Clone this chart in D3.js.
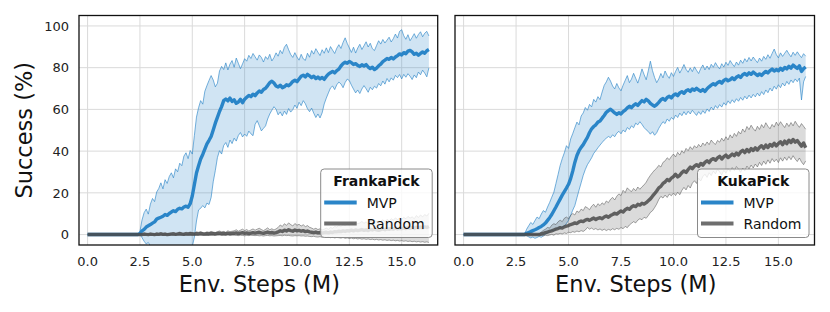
<!DOCTYPE html>
<html>
<head>
<meta charset="utf-8">
<script src="https://cdn.jsdelivr.net/npm/d3@7"></script>
<style>
  html, body { margin: 0; padding: 0; background: #fff; }
  svg { display: block; font-family: "DejaVu Sans", sans-serif; }
</style>
</head>
<body>
<svg id="chart" width="830" height="312"></svg>
<script>
// samples every 0.1 M env steps, from 0.0 to 16.3
const stepSize = 0.1;

const xTicks = [0, 2.5, 5, 7.5, 10, 12.5, 15];
const yTicks = [0, 20, 40, 60, 80, 100];
const seriesNames = ["MVP", "Random"];

// ---- FrankaPick ----
const frankaMvpMean = [
  0,0,0,0,0,0,0,0,0,0,
  0,0,0,0,0,0,0,0,0,0,
  0,0,0,0,0,0.5,1.8,2.5,3.6,4.2,
  4.8,5.5,6.1,7.4,7.9,8.3,8.8,9.6,9.2,10.1,
  10.8,11.4,11.0,12.1,12.6,12.3,13.2,13.6,13.1,14.8,
  18.5,24.0,29.5,33.0,36.2,38.4,41.0,43.5,45.2,47.0,
  50.1,53.4,56.2,59.0,61.3,64.2,65.0,64.1,65.4,63.8,
  64.6,62.9,63.5,64.8,63.2,64.9,65.8,66.7,66.1,67.3,
  66.6,67.9,68.8,68.2,69.5,70.1,71.4,72.8,73.5,72.6,
  71.2,70.7,71.6,70.4,70.9,71.8,71.3,72.2,73.4,74.0,
  73.3,74.6,75.9,76.4,75.6,76.8,76.1,75.2,75.9,74.8,
  75.5,74.6,75.3,74.4,75.8,76.9,77.6,78.2,77.5,78.6,
  79.3,80.8,81.9,82.6,82.1,83.0,82.4,81.5,81.9,81.1,
  80.6,81.4,80.8,81.5,80.3,79.6,80.2,79.1,79.8,80.9,
  81.7,82.9,83.6,84.4,84.0,84.9,84.2,85.1,85.8,86.6,
  86.1,87.2,86.7,87.9,88.3,87.6,86.4,86.9,86.0,86.8,
  87.5,86.9,88.1,88.7
];
const frankaMvpHigh = [
  0,0,0,0,0,0,0,0,0,0,
  0,0,0,0,0,0,0,0,0,0,
  0,0,0,0,0,1.5,7.0,10.5,12.2,9.8,
  14.6,17.3,15.8,20.4,22.1,24.8,21.9,26.3,24.5,27.8,
  29.6,27.2,31.5,30.1,34.2,33.0,37.6,39.2,36.4,40.3,
  38.6,47.5,56.3,60.8,64.2,62.5,68.7,71.4,73.9,76.2,
  74.1,70.8,72.5,78.4,80.6,79.1,82.3,78.9,81.7,83.4,
  80.2,84.6,82.1,79.5,81.8,84.3,83.1,85.9,84.4,86.8,
  85.2,83.6,86.1,84.9,82.7,85.3,84.0,86.4,83.2,84.8,
  87.1,85.5,88.3,86.7,89.8,91.2,88.6,86.3,84.9,87.2,
  85.1,83.6,86.4,84.2,83.5,86.9,85.0,88.2,86.5,89.1,
  87.4,85.8,88.6,86.9,89.5,87.2,90.1,88.4,86.8,89.3,
  91.0,89.2,92.1,94.3,91.6,89.5,87.3,89.8,87.0,89.4,
  91.2,88.7,90.5,92.4,89.9,91.7,89.1,88.2,90.6,92.9,
  91.3,93.5,91.8,93.2,94.6,92.3,93.9,96.1,94.2,97.4,
  98.2,95.3,93.6,95.8,92.9,94.5,96.3,94.1,95.9,97.2,
  94.8,96.5,97.4,95.2
];
const frankaMvpLow = [
  0,0,0,0,0,0,0,0,0,0,
  0,0,0,0,0,0,0,0,0,0,
  0,0,0,0,0,0,-1.5,-3.2,-4.5,-3.8,
  -5.5,-6.2,-7.1,-6.5,-7.8,-6.9,-7.4,-8.2,-7.0,-7.6,
  -8.1,-7.3,-7.9,-8.4,-7.2,-7.7,-8.3,-7.5,-8.0,-7.4,
  -5.8,-1.2,6.5,11.8,12.6,13.9,12.8,15.1,14.4,17.8,
  25.3,30.7,36.9,40.2,38.6,42.7,44.1,41.8,45.3,43.6,
  46.2,44.8,47.5,48.9,46.8,48.2,47.1,49.6,48.3,47.4,
  52.8,54.6,52.2,49.7,50.9,52.1,55.4,57.8,59.6,61.3,
  60.1,57.4,58.8,56.9,59.2,57.6,60.4,58.7,59.9,62.1,
  60.5,63.4,61.8,64.2,62.7,60.3,58.9,60.6,58.2,56.1,
  57.8,55.9,58.3,62.6,65.4,67.9,70.3,71.2,69.5,71.8,
  73.1,72.2,70.4,72.9,74.5,73.8,71.6,69.7,67.9,69.3,
  67.6,69.8,71.4,69.9,68.2,70.6,69.4,71.1,70.2,72.4,
  71.3,73.6,72.1,74.8,73.2,75.1,74.0,76.3,75.2,76.7,
  74.6,76.8,75.4,77.1,75.9,74.3,76.5,75.2,77.9,76.6,
  78.8,77.4,75.6,79.9
];
const frankaRandMean = [
  0,0,0,0,0,0,0,0,0,0,
  0,0,0,0,0,0,0,0,0,0,
  0,0,0,0,0,0.1,0,0.2,0.1,0,
  0.2,0.1,0,0.2,0.1,0.3,0.1,0.2,0,0.1,
  0.2,0.3,0.1,0.2,0.4,0.2,0.1,0.3,0.2,0.4,
  0.3,0.2,0.4,0.3,0.5,0.3,0.2,0.4,0.3,0.5,
  0.4,0.3,0.5,0.6,0.4,0.5,0.3,0.6,0.4,0.5,
  0.6,0.8,0.5,0.7,0.9,0.6,0.8,0.5,0.7,0.9,
  0.7,0.9,1.1,0.8,0.6,0.9,1.2,0.8,1.0,0.7,
  0.9,1.3,1.8,1.5,2.1,1.7,2.3,1.9,1.6,2.2,
  1.8,2.0,1.6,1.9,1.4,1.7,1.3,1.1,0.9,1.2,
  0.8,1.0,0.7,0.9,1.1,0.8,1.2,1.0,1.4,1.3,
  1.6,1.4,1.8,1.5,1.9,1.7,2.1,1.8,2.2,1.9,
  2.1,2.4,2.0,2.3,1.9,2.5,2.2,2.6,2.3,2.0,
  2.4,2.7,2.3,2.8,2.5,2.9,2.6,3.1,2.7,3.0,
  2.8,3.2,2.9,3.4,3.0,3.3,2.9,3.5,3.1,3.6,
  3.2,3.7,3.4,3.9
];
const frankaRandHigh = [
  0,0,0,0,0,0,0,0,0,0,
  0,0,0,0,0,0,0,0,0,0,
  0,0,0,0,0,0.6,0.3,0.8,0.5,0.4,
  0.7,0.5,0.3,0.8,0.6,0.9,0.5,0.7,0.4,0.6,
  0.8,1.0,0.6,0.9,1.2,0.8,0.7,1.1,0.9,1.2,
  1.0,0.8,1.3,1.1,1.4,1.0,0.9,1.3,1.1,1.5,
  1.2,1.0,1.4,1.7,1.3,1.5,1.1,1.8,1.4,1.6,
  1.8,2.3,1.6,2.1,2.6,1.9,2.4,1.7,2.2,2.7,
  2.1,2.6,3.0,2.4,1.9,2.5,3.2,2.3,2.8,2.2,
  2.7,3.4,4.6,3.9,5.2,4.4,5.6,4.8,4.1,5.3,
  4.5,4.9,4.1,4.7,3.8,4.3,3.5,3.1,2.6,3.0,
  2.4,2.8,2.2,2.6,3.1,2.5,3.4,3.0,3.9,3.6,
  4.4,3.9,4.8,4.2,5.1,4.6,5.5,4.9,5.8,5.2,
  5.6,6.3,5.4,6.1,5.2,6.6,5.9,6.8,6.2,5.5,
  6.4,7.1,6.2,7.3,6.6,7.6,6.9,8.0,7.2,7.8,
  7.3,8.2,7.6,8.7,7.9,8.5,7.6,9.1,8.2,9.4,
  8.5,9.6,8.9,10.2
];
const frankaRandLow = [
  0,0,0,0,0,0,0,0,0,0,
  0,0,0,0,0,0,0,0,0,0,
  0,0,0,0,0,-0.3,-0.2,-0.3,-0.2,-0.3,
  -0.2,-0.3,-0.3,-0.2,-0.3,-0.2,-0.3,-0.2,-0.3,-0.3,
  -0.2,-0.3,-0.3,-0.2,-0.1,-0.3,-0.3,-0.2,-0.3,-0.2,
  -0.3,-0.3,-0.2,-0.3,-0.2,-0.3,-0.3,-0.2,-0.3,-0.2,
  -0.2,-0.3,-0.2,-0.1,-0.3,-0.2,-0.3,-0.1,-0.3,-0.2,
  -0.3,-0.4,-0.5,-0.3,-0.4,-0.6,-0.4,-0.5,-0.3,-0.4,
  -0.5,-0.4,-0.6,-0.5,-0.7,-0.5,-0.4,-0.6,-0.5,-0.7,
  -0.6,-0.5,-0.4,-0.6,-0.3,-0.5,-0.4,-0.6,-0.7,-0.5,
  -0.6,-0.5,-0.7,-0.6,-0.8,-0.7,-0.9,-1.0,-0.8,-1.1,
  -1.2,-1.0,-1.3,-1.1,-1.4,-1.2,-1.5,-1.3,-1.6,-1.4,
  -1.5,-1.7,-1.4,-1.8,-1.6,-1.9,-1.7,-2.0,-1.8,-2.1,
  -1.9,-2.2,-2.0,-2.3,-2.1,-2.4,-2.2,-2.5,-2.3,-2.6,
  -2.4,-2.7,-2.5,-2.8,-2.6,-2.9,-2.7,-3.0,-2.8,-3.1,
  -2.9,-3.2,-3.0,-3.3,-3.1,-3.4,-3.2,-3.5,-3.3,-3.6,
  -3.4,-3.7,-3.5,-3.8
];

// ---- KukaPick ----
const kukaMvpMean = [
  0,0,0,0,0,0,0,0,0,0,
  0,0,0,0,0,0,0,0,0,0,
  0,0,0,0,0,0,0,0,0,0,
  0.6,1.0,1.4,1.9,2.3,2.8,3.4,3.9,4.6,5.5,
  6.8,8.1,9.6,11.4,13.2,15.1,17.0,18.9,20.6,22.3,
  24.1,26.8,30.4,34.6,37.9,40.2,41.8,43.1,44.9,46.6,
  48.9,50.7,51.8,52.6,53.9,54.4,55.8,57.1,58.6,59.4,
  60.1,59.2,58.3,57.6,58.4,57.8,58.9,59.6,60.7,61.5,
  60.8,61.9,62.7,61.9,63.1,64.2,63.6,64.8,64.1,62.9,
  62.1,61.5,62.3,63.4,64.6,65.2,64.4,65.7,66.3,65.5,
  66.8,67.4,66.6,67.9,68.5,67.7,68.9,69.4,68.6,69.8,
  69.2,70.1,69.3,68.7,69.5,68.6,69.9,70.8,71.6,72.3,
  71.7,72.8,73.4,72.6,73.9,74.5,73.7,74.2,75.1,74.3,
  75.4,76.1,75.3,76.6,77.2,76.4,77.5,76.8,77.9,77.1,
  76.2,77.0,76.3,77.4,78.2,77.5,78.6,79.3,78.4,79.1,
  78.5,79.7,78.8,80.1,79.4,80.6,79.8,81.2,80.4,79.6,
  80.9,78.2,79.5,80.3
];
const kukaMvpHigh = [
  0,0,0,0,0,0,0,0,0,0,
  0,0,0,0,0,0,0,0,0,0,
  0,0,0,0,0,0,0,0,0,0,
  2.5,4.2,5.8,4.9,6.7,8.4,7.6,9.8,11.5,10.7,
  13.2,15.4,17.9,20.3,24.5,28.7,33.1,36.4,39.2,42.6,
  41.3,45.8,48.4,51.2,53.9,52.6,56.8,58.3,60.9,59.6,
  62.4,61.2,64.8,63.5,66.1,64.7,68.3,71.5,73.2,75.4,
  73.6,71.2,69.8,72.4,70.3,68.9,71.6,73.9,76.2,72.8,
  74.5,77.3,74.9,72.6,75.8,79.4,76.7,74.2,78.5,83.1,
  78.6,75.3,72.8,74.6,77.2,75.1,78.4,76.3,74.9,77.6,
  75.8,78.2,80.1,77.4,79.3,81.5,79.2,77.8,79.9,78.1,
  80.4,78.7,77.2,79.6,81.3,78.9,80.8,79.1,81.6,80.2,
  82.4,80.7,79.4,81.9,80.3,82.6,81.1,83.4,81.8,80.5,
  82.7,81.2,83.6,82.1,84.3,82.8,84.9,83.2,85.1,83.7,
  82.4,84.6,83.1,85.4,84.0,86.2,84.5,86.8,88.9,86.3,
  84.7,87.1,85.4,86.9,88.3,86.6,85.2,87.4,85.9,87.6,
  86.1,84.8,86.7,85.5
];
const kukaMvpLow = [
  0,0,0,0,0,0,0,0,0,0,
  0,0,0,0,0,0,0,0,0,0,
  0,0,0,0,0,0,0,0,0,0,
  -0.5,-1.1,-1.6,-1.2,-1.8,-1.4,-0.9,-1.3,-0.6,0.2,
  0.8,1.4,2.1,1.7,2.6,3.2,2.8,3.6,4.1,5.3,
  6.8,9.2,11.7,13.9,17.6,21.3,24.8,28.4,31.2,33.5,
  35.1,36.8,38.9,40.2,41.6,42.9,44.1,45.3,46.2,47.0,
  46.4,47.8,46.9,48.6,49.5,48.3,50.1,49.2,51.3,50.4,
  52.1,51.2,53.4,52.6,54.1,52.8,51.3,50.2,49.4,48.1,
  49.3,47.6,48.8,50.9,52.6,54.1,53.2,55.4,54.3,56.1,
  55.2,57.3,56.1,58.2,57.0,58.9,57.4,59.1,57.8,59.6,
  58.3,57.1,58.9,57.6,59.4,58.1,60.2,59.0,61.1,59.7,
  61.8,60.5,62.3,61.1,63.2,62.0,64.1,62.8,64.6,63.3,
  65.1,63.9,65.7,64.4,66.3,65.0,66.8,65.5,67.2,66.0,
  67.8,66.4,68.5,67.1,69.3,68.0,70.2,68.8,71.1,69.7,
  71.8,70.4,72.6,71.2,73.4,72.0,74.1,72.8,74.6,73.3,
  75.0,64.5,73.2,75.8
];
const kukaRandMean = [
  0,0,0,0,0,0,0,0,0,0,
  0,0,0,0,0,0,0,0,0,0,
  0,0,0,0,0,0,0,0,0,0,
  0,0,0,0,0,0,0,0.3,0.6,0.9,
  1.2,1.5,1.8,2.2,2.6,2.9,3.3,3.1,3.7,4.0,
  4.3,4.8,5.1,5.6,5.3,6.1,6.5,6.2,6.9,7.3,
  6.8,7.4,7.9,7.2,7.8,8.1,7.6,8.4,8.9,8.3,
  9.1,9.6,10.2,9.8,10.6,11.3,10.8,11.9,12.6,12.1,
  13.2,13.8,13.4,14.5,14.1,15.0,14.6,15.3,16.2,17.1,
  18.4,19.6,20.9,22.4,23.1,24.5,25.2,26.4,25.8,27.1,
  27.8,28.9,27.6,28.4,29.7,30.5,29.8,31.2,32.4,31.6,
  32.8,33.5,32.7,34.1,33.3,34.6,35.4,34.5,35.9,36.4,
  35.6,36.8,37.5,36.2,37.4,38.1,36.9,37.7,38.6,37.8,
  39.1,38.2,39.6,40.4,39.3,40.8,39.7,41.2,40.3,41.6,
  40.5,41.8,42.6,41.3,42.9,41.7,43.2,42.4,43.8,42.5,
  43.6,44.5,43.1,44.8,43.6,45.2,44.1,45.6,44.3,45.1,
  43.7,42.4,43.9,41.6
];
const kukaRandHigh = [
  0,0,0,0,0,0,0,0,0,0,
  0,0,0,0,0,0,0,0,0,0,
  0,0,0,0,0,0,0,0,0,0,
  0,0,0,0,0,0,0.4,1.2,2.0,2.6,
  3.4,3.1,4.5,5.2,4.8,6.1,6.9,6.2,7.8,8.4,
  7.6,9.2,10.1,9.4,11.3,10.6,12.2,11.5,13.4,12.8,
  11.9,13.6,14.5,13.1,14.8,13.9,15.2,14.4,16.1,15.3,
  16.9,17.8,16.6,18.4,19.5,18.7,21.2,20.1,22.4,21.3,
  20.6,22.1,21.0,22.8,21.7,22.9,23.8,25.1,26.9,28.4,
  29.7,30.9,31.8,33.2,32.4,34.6,35.3,36.8,35.9,37.4,
  38.6,37.2,39.4,38.1,40.2,39.0,41.3,40.2,42.1,40.8,
  42.6,41.5,43.2,42.0,43.9,42.7,44.4,43.1,45.3,44.0,
  43.2,45.1,44.3,46.2,44.8,46.9,45.4,47.8,46.3,48.5,
  47.1,49.4,48.2,50.6,49.1,51.8,50.3,52.4,50.8,49.6,
  51.9,50.4,52.7,51.2,53.6,51.9,50.7,52.8,51.5,53.9,
  52.2,54.1,52.6,51.3,53.4,51.8,53.7,52.1,54.3,52.7,
  51.4,53.2,51.9,50.5
];
const kukaRandLow = [
  0,0,0,0,0,0,0,0,0,0,
  0,0,0,0,0,0,0,0,0,0,
  0,0,0,0,0,0,0,0,0,0,
  0,0,0,0,0,0,0,-0.4,-0.6,-0.3,
  -0.5,-0.2,0.1,-0.3,0.4,0.2,0.6,0.3,0.8,0.5,
  1.1,0.9,1.4,1.1,1.7,1.3,1.9,1.5,2.2,3.4,
  2.6,3.1,2.4,2.9,2.2,2.7,2.0,2.6,1.9,2.5,
  2.1,2.8,2.3,3.0,2.5,3.4,2.8,3.9,3.3,4.6,
  5.4,6.2,5.6,6.9,7.6,7.1,8.3,7.8,9.1,10.6,
  11.4,12.9,14.6,16.8,18.3,17.5,18.9,17.8,19.4,18.6,
  19.9,18.7,20.3,19.1,21.2,22.6,21.4,23.5,22.3,24.6,
  25.8,24.5,26.9,25.7,27.8,28.9,27.4,29.6,28.3,30.4,
  29.1,31.2,30.0,28.6,30.8,29.4,31.5,30.2,32.1,30.7,
  32.6,31.3,29.8,31.9,30.6,32.8,31.4,33.3,31.9,33.8,
  32.4,34.6,33.1,35.2,33.7,35.8,34.2,36.4,34.9,36.1,
  34.5,36.8,35.2,37.1,35.6,37.4,35.9,37.8,36.2,35.0,
  36.7,34.8,33.5,35.3
];

const blue = "#2a85c8";
const grey = "#4a4a4a";

const svg = d3.select("#chart");
const plotTop = 15.5, plotBottom = 245;

const y = d3.scaleLinear().domain([-5, 105]).range([plotBottom, plotTop]);

function drawPanel(id, left, right, title, mvp, rand, showY) {
    const x = d3.scaleLinear().domain([-0.41, 16.72]).range([left, right]);
    const g = svg.append("g");

    // grid
    g.selectAll(".gx").data(xTicks).enter().append("line")
        .attr("x1", d => x(d)).attr("x2", d => x(d))
        .attr("y1", plotTop).attr("y2", plotBottom)
        .attr("stroke", "#dadada").attr("stroke-width", 1);
    g.selectAll(".gy").data(yTicks).enter().append("line")
        .attr("x1", left).attr("x2", right)
        .attr("y1", d => y(d)).attr("y2", d => y(d))
        .attr("stroke", "#dadada").attr("stroke-width", 1);

    svg.append("clipPath").attr("id", "clip" + id)
        .append("rect").attr("x", left).attr("y", plotTop)
        .attr("width", right - left).attr("height", plotBottom - plotTop);

    const plot = g.append("g").attr("clip-path", `url(#clip${id})`);

    const line = arr => d3.line()
        .x((d, i) => x(i * stepSize))
        .y(d => y(d))(arr);
    const area = (lo, hi) => d3.area()
        .x((d, i) => x(i * stepSize))
        .y0((d, i) => y(lo[i]))
        .y1((d, i) => y(hi[i]))(lo);

    const bands = [[mvp, blue], [rand, grey]];
    bands.forEach(([s, c]) => {
        plot.append("path").attr("d", area(s.low, s.high))
            .attr("fill", c).attr("fill-opacity", c === blue ? 0.22 : 0.2);
        [s.low, s.high].forEach(edge => {
            plot.append("path").attr("d", line(edge))
                .attr("fill", "none").attr("stroke", c)
                .attr("stroke-opacity", c === blue ? 0.7 : 0.55).attr("stroke-width", 0.9);
        });
    });

    plot.append("path").attr("d", line(mvp.mean))
        .attr("fill", "none").attr("stroke", blue).attr("stroke-width", 3.4)
        .attr("stroke-linejoin", "round");
    plot.append("path").attr("d", line(rand.mean))
        .attr("fill", "none").attr("stroke", grey).attr("stroke-opacity", 0.85)
        .attr("stroke-width", 3.4).attr("stroke-linejoin", "round");

    // frame
    g.append("rect").attr("x", left).attr("y", plotTop)
        .attr("width", right - left).attr("height", plotBottom - plotTop)
        .attr("fill", "none").attr("stroke", "#111").attr("stroke-width", 1.3);

    // tick labels
    g.selectAll(".tx").data(xTicks).enter().append("text")
        .attr("x", d => x(d)).attr("y", 265.5)
        .attr("text-anchor", "middle").attr("font-size", 13).attr("fill", "#222")
        .text(d => d.toFixed(1));
    if (showY) {
        g.selectAll(".ty").data(yTicks).enter().append("text")
            .attr("x", left - 10).attr("y", d => y(d)).attr("dy", "0.36em")
            .attr("text-anchor", "end").attr("font-size", 13).attr("fill", "#222")
            .text(d => d);
        g.append("text")
            .attr("transform", `translate(32,${(plotTop + plotBottom) / 2}) rotate(-90)`)
            .attr("text-anchor", "middle").attr("font-size", 22.5).attr("fill", "#111")
            .text("Success (%)");
    }
    g.append("text")
        .attr("x", (left + right) / 2 + 1).attr("y", 292)
        .attr("text-anchor", "middle").attr("font-size", 22.5).attr("fill", "#111")
        .text("Env. Steps (M)");

    // legend
    const lx = right - 117, ly = 169;
    const lg = g.append("g").attr("transform", `translate(${lx},${ly})`);
    lg.append("rect").attr("x", 0).attr("y", 0)
        .attr("width", 111.5).attr("height", 68.5).attr("rx", 3.5)
        .attr("fill", "#fff").attr("fill-opacity", 0.8)
        .attr("stroke", "#8a8a8a").attr("stroke-width", 1);
    lg.append("text").attr("x", 55.75).attr("y", 17)
        .attr("text-anchor", "middle").attr("font-size", 14).attr("font-weight", "bold")
        .attr("fill", "#111").text(title);
    [[blue, 0], [grey, 1]].forEach(([c, k]) => {
        lg.append("line").attr("x1", 3.5).attr("x2", 36)
            .attr("y1", 33.5 + k * 21).attr("y2", 33.5 + k * 21)
            .attr("stroke", c).attr("stroke-opacity", c === grey ? 0.8 : 1)
            .attr("stroke-width", 4);
        lg.append("text").attr("x", 46).attr("y", 38.5 + k * 21)
            .attr("font-size", 14).attr("fill", "#111").text(seriesNames[k]);
    });
}

drawPanel("a", 79, 437.7, "FrankaPick",
    { mean: frankaMvpMean, low: frankaMvpLow, high: frankaMvpHigh },
    { mean: frankaRandMean, low: frankaRandLow, high: frankaRandHigh }, true);
drawPanel("b", 455, 814.5, "KukaPick",
    { mean: kukaMvpMean, low: kukaMvpLow, high: kukaMvpHigh },
    { mean: kukaRandMean, low: kukaRandLow, high: kukaRandHigh }, false);
</script>
</body>
</html>
